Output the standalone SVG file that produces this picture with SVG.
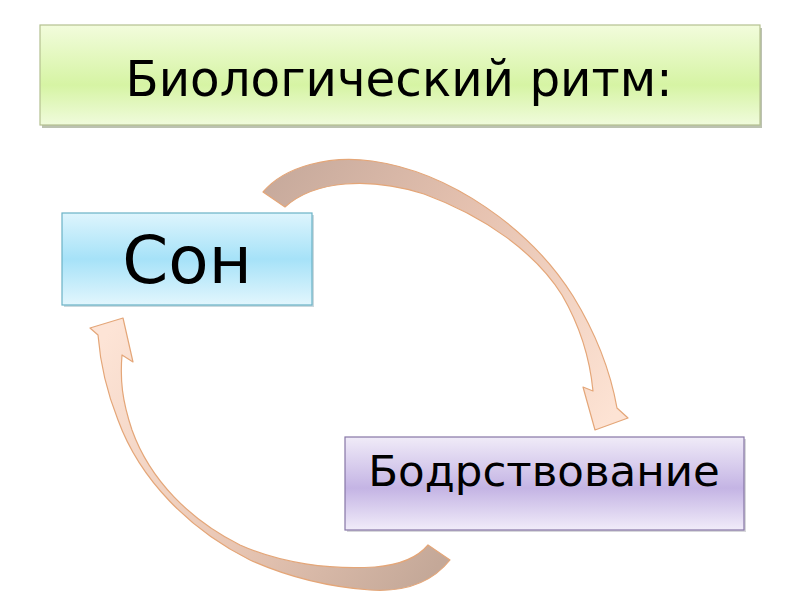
<svg xmlns="http://www.w3.org/2000/svg" width="800" height="600" viewBox="0 0 800 600">
<defs>
<linearGradient id="gGreen" x1="0" y1="0" x2="0" y2="1">
<stop offset="0" stop-color="#f2fcdc"/><stop offset="0.6" stop-color="#d6f4a4"/><stop offset="1" stop-color="#f0fbdc"/>
</linearGradient>
<linearGradient id="gBlue" x1="0" y1="0" x2="0" y2="1">
<stop offset="0" stop-color="#def5fd"/><stop offset="0.5" stop-color="#a6e2f8"/><stop offset="1" stop-color="#e2f6fd"/>
</linearGradient>
<linearGradient id="gPurple" x1="0" y1="0" x2="0" y2="1">
<stop offset="0" stop-color="#f0ebf8"/><stop offset="0.55" stop-color="#c4b4e4"/><stop offset="1" stop-color="#f1ecf9"/>
</linearGradient>
<linearGradient id="gArrow1" gradientUnits="userSpaceOnUse" x1="270" y1="180" x2="610" y2="420">
<stop offset="0" stop-color="#c7aa9c"/><stop offset="0.45" stop-color="#e6c2b0"/><stop offset="1" stop-color="#fde3d4"/>
</linearGradient>
<linearGradient id="gArrow2" gradientUnits="userSpaceOnUse" x1="445" y1="555" x2="110" y2="330">
<stop offset="0" stop-color="#c4a898"/><stop offset="0.45" stop-color="#e8c6b4"/><stop offset="1" stop-color="#fde4d6"/>
</linearGradient>
<style>
text{font-family:"DejaVu Sans","Liberation Sans",sans-serif;fill:#000;text-anchor:middle}
.arrow{stroke:#e4a678;stroke-width:1.2;stroke-linejoin:round}
</style>
</defs>
<rect width="800" height="600" fill="#fff"/>
<g id="connectors">
<path class="arrow" fill="url(#gArrow1)" d="M263,192 C285,166 330,155 372,161 C450,172 530,228 573,296 C600,340 612,380 617,408 L628,418 L595,430 L583,387 L593,391 C590,360 580,326 562,295 C535,252 484,216 424,194 C370,177 315,180 285,207 Z"/>
<path class="arrow" fill="url(#gArrow2)" d="M428,545 L450,560 C430,585 400,592 370,590 C330,587 290,578 250,560 C190,530 140,480 118,420 C106,390 100,360 98,335 L90,328 L123,318 L133,362 L122,355 C120,380 122,400 132,430 C150,480 190,520 240,545 C280,563 330,570 375,567 C400,565 418,557 428,545 Z"/>
</g>
<g id="title">
<rect x="42" y="28" width="720" height="100" fill="#a0a890" opacity="0.7"/>
<rect x="40" y="25" width="720" height="100" fill="url(#gGreen)" stroke="#b4c090" stroke-width="1.2"/>
<text x="399" y="96" font-size="50" textLength="547" lengthAdjust="spacingAndGlyphs">Биологический ритм:</text>
</g>
<g id="son">
<rect x="64" y="215" width="250" height="92" fill="#a8c0c8" opacity="0.6"/>
<rect x="62" y="213" width="250" height="92" fill="url(#gBlue)" stroke="#6ab2c6" stroke-width="1.2"/>
<text x="187" y="283" font-size="66">Сон</text>
</g>
<g id="bodr">
<rect x="347" y="439" width="399" height="93" fill="#b0b0b8" opacity="0.5"/>
<rect x="345" y="437" width="399" height="93" fill="url(#gPurple)" stroke="#8676a6" stroke-width="1.2"/>
<text x="544" y="486" font-size="43.5">Бодрствование</text>
</g>
</svg>
